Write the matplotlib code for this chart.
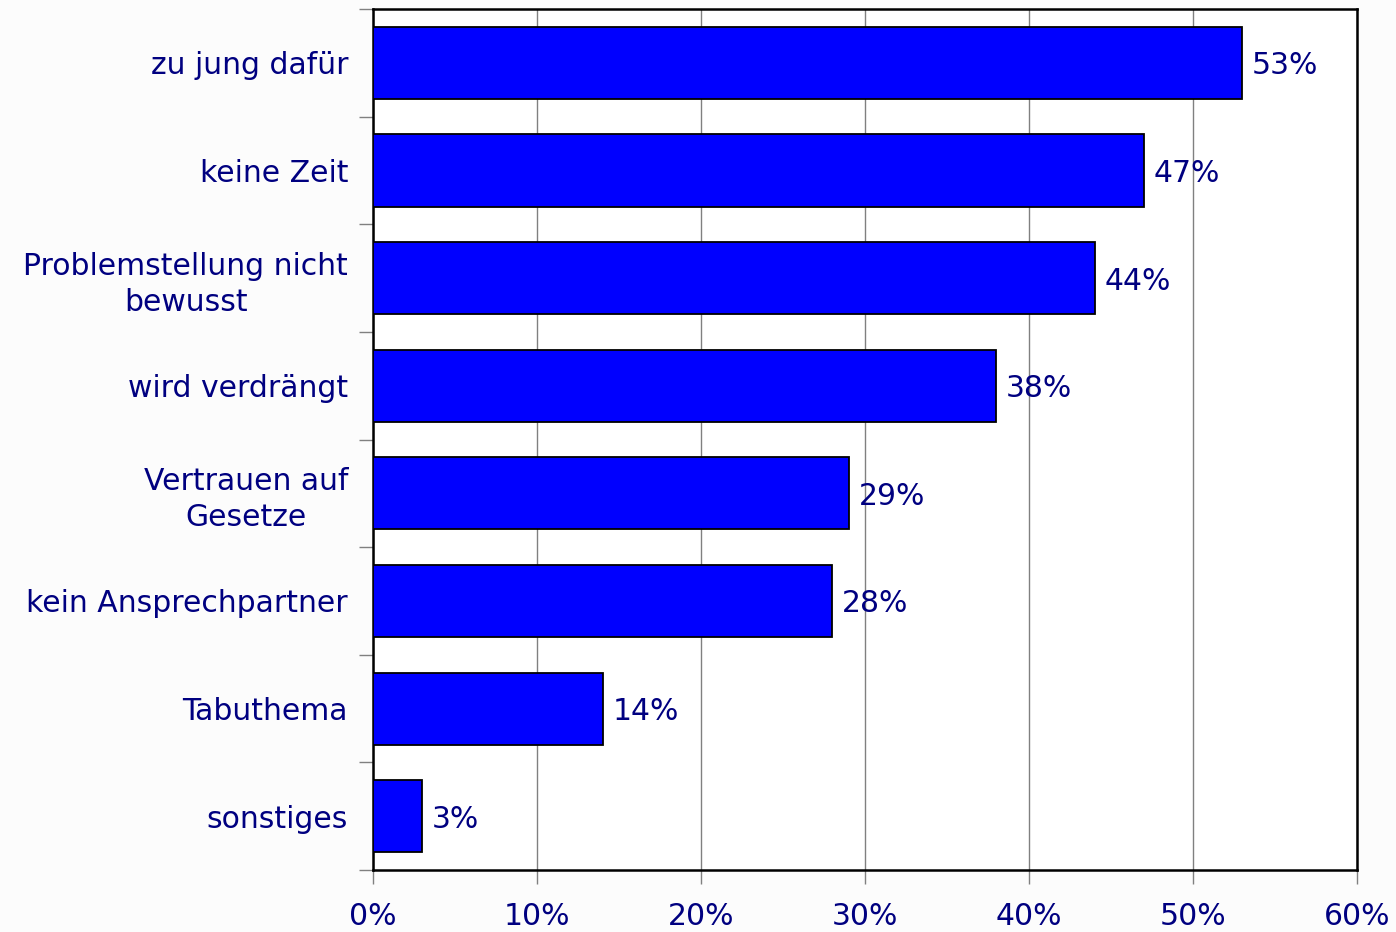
import numpy as np
import matplotlib.pyplot as plt

# Gründe (von oben nach unten) und Anteile in %
categories = ['zu jung dafür', 'keine Zeit', 'Problemstellung nicht\nbewusst',
              'wird verdrängt', 'Vertrauen auf\nGesetze', 'kein Ansprechpartner',
              'Tabuthema', 'sonstiges']
values = [53, 47, 44, 38, 29, 28, 14, 3]
xticks = [0, 10, 20, 30, 40, 50, 60]

navy = '#000080'
plt.rcParams['font.family'] = ['DejaVu Sans']
fs = 21.5

fig = plt.figure(figsize=(13.96, 9.32), dpi=100)
fig.patch.set_facecolor('#fcfcfc')
ax = fig.add_axes([0.2672, 0.0665, 0.9721 - 0.2672, 0.9903 - 0.0665])

y = np.arange(len(categories))
ax.barh(y, values, height=0.67, color='#0000ff', edgecolor='black', linewidth=1.3, zorder=3)

for yi, v in zip(y, values):
    ax.text(v + 0.6, yi, f'{v}%', va='center_baseline', ha='left', fontsize=fs, color=navy, zorder=4)

ax.set_xlim(0, 60)
ax.set_ylim(len(categories) - 0.5, -0.5)
ax.set_xticks(xticks)
ax.set_xticklabels([f'{t}%' for t in xticks], fontsize=fs, color=navy)
ax.set_yticks(y)
ax.set_yticklabels(categories, fontsize=fs, color=navy, multialignment='center', linespacing=1.3)
ax.set_yticks(np.arange(len(categories) + 1) - 0.5, minor=True)

ax.tick_params(axis='y', which='major', length=0, pad=18)
ax.tick_params(axis='y', which='minor', length=10, width=1, color='#808080')
ax.tick_params(axis='x', which='major', length=10, width=1, color='#808080', pad=13)

ax.grid(axis='x', color='#808080', linewidth=1, zorder=0)
ax.set_axisbelow(True)
for s in ax.spines.values():
    s.set_color('black')
    s.set_linewidth(1.8)
ax.set_facecolor('white')

fig.savefig('out.png', dpi=100, facecolor=fig.get_facecolor())
